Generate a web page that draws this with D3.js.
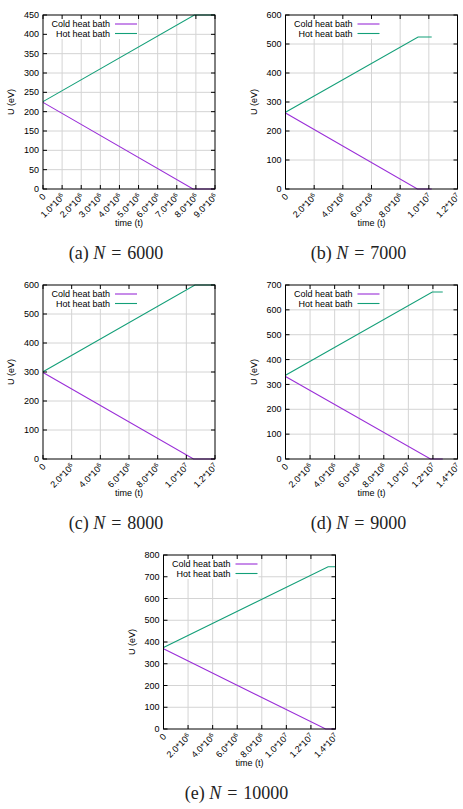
<!DOCTYPE html>
<html>
<head>
<meta charset="utf-8">
<script src="https://cdn.jsdelivr.net/npm/d3@7"></script>
<style>
  body { margin: 0; background: #fff; }
  svg { display: block; }
  .tick-label, .axis-title, .key-text { font-family: "Liberation Sans", Arial, sans-serif; font-size: 9px; fill: #000; }
  .caption { font-family: "Liberation Serif", "DejaVu Serif", serif; font-size: 18px; fill: #222; }
</style>
</head>
<body>
<svg id="chart" width="463" height="809"></svg>
<script>
// sub-figure captions
const captionLetters = ['a', 'b', 'c', 'd', 'e'];
const captionN = [6000, 7000, 8000, 9000, 10000];

// axis ranges
const xMax = [9e6, 1.2e7, 1.2e7, 1.4e7, 1.4e7];
const xStep = [1e6, 2e6, 2e6, 2e6, 2e6];
const yMax = [450, 600, 600, 700, 800];
const yStep = [50, 100, 100, 100, 100];

// series: [time, U]
const coldA = [[0, 224], [7.85e6, 0], [9e6, 0]];
const hotA = [[0, 226], [7.92e6, 450], [9e6, 450]];
const coldB = [[0, 262], [9.2e6, 0], [1.02e7, 0]];
const hotB = [[0, 265], [9.25e6, 524], [1.02e7, 524]];
const coldC = [[0, 298], [1.05e7, 0], [1.2e7, 0]];
const hotC = [[0, 301], [1.06e7, 600], [1.2e7, 600]];
const coldD = [[0, 332], [1.18e7, 0], [1.28e7, 0]];
const hotD = [[0, 337], [1.195e7, 672], [1.28e7, 672]];
const coldE = [[0, 369], [1.32e7, 0], [1.4e7, 0]];
const hotE = [[0, 375], [1.34e7, 746], [1.4e7, 746]];

const coldSeries = [coldA, coldB, coldC, coldD, coldE];
const hotSeries = [hotA, hotB, hotC, hotD, hotE];

const seriesNames = ['Cold heat bath', 'Hot heat bath'];
const seriesColors = ['#9a2ed8', '#139f78'];

// where each plot box sits on the page
const origins = [[43, 15], [285.5, 15], [43, 285], [285.5, 285], [163.5, 555]];
const plotW = 172, plotH = 174;

const svg = d3.select('#chart');

function tickText(v) {
  if (v === 0) return { base: '0', exp: null };
  const e = Math.floor(Math.log10(v));
  const m = v / Math.pow(10, e);
  return { base: m.toFixed(1) + '*10', exp: String(e) };
}

origins.forEach(([ox, oy], i) => {
  const g = svg.append('g').attr('transform', `translate(${ox},${oy})`);

  const x = d3.scaleLinear().domain([0, xMax[i]]).range([0, plotW]);
  const y = d3.scaleLinear().domain([0, yMax[i]]).range([plotH, 0]);

  const xTicks = d3.range(0, xMax[i] + 1, xStep[i]);
  const yTicks = d3.range(0, yMax[i] + 1, yStep[i]);

  // grid
  g.selectAll('.gx').data(xTicks.slice(1, -1)).join('line')
    .attr('x1', d => x(d)).attr('x2', d => x(d))
    .attr('y1', 0).attr('y2', plotH)
    .attr('stroke', '#d4d4d4').attr('stroke-width', 1);
  g.selectAll('.gy').data(yTicks.slice(1, -1)).join('line')
    .attr('x1', 0).attr('x2', plotW)
    .attr('y1', d => y(d)).attr('y2', d => y(d))
    .attr('stroke', '#d4d4d4').attr('stroke-width', 1);

  // opaque key background
  g.append('rect').attr('x', 1).attr('y', 1).attr('width', 94).attr('height', 23).attr('fill', '#fff');

  // series lines
  const line = d3.line().x(d => x(d[0])).y(d => y(d[1]));
  [coldSeries[i], hotSeries[i]].forEach((s, k) => {
    g.append('path').datum(s)
      .attr('d', line)
      .attr('fill', 'none')
      .attr('stroke', seriesColors[k])
      .attr('stroke-width', 1.1);
  });

  // key
  seriesNames.forEach((name, k) => {
    const ky = 9 + k * 9.5;
    g.append('text').attr('class', 'key-text')
      .attr('x', 67).attr('y', ky).attr('dy', '0.35em')
      .attr('text-anchor', 'end').text(name);
    g.append('line')
      .attr('x1', 72).attr('x2', 94).attr('y1', ky).attr('y2', ky)
      .attr('stroke', seriesColors[k]).attr('stroke-width', 1.1);
  });

  // ticks (inside, mirrored)
  yTicks.forEach(v => {
    g.append('line').attr('x1', 0).attr('x2', 4).attr('y1', y(v)).attr('y2', y(v)).attr('stroke', '#000');
    g.append('line').attr('x1', plotW - 4).attr('x2', plotW).attr('y1', y(v)).attr('y2', y(v)).attr('stroke', '#000');
  });
  xTicks.forEach(v => {
    g.append('line').attr('x1', x(v)).attr('x2', x(v)).attr('y1', plotH).attr('y2', plotH - 4).attr('stroke', '#000');
    g.append('line').attr('x1', x(v)).attr('x2', x(v)).attr('y1', 0).attr('y2', 4).attr('stroke', '#000');
  });

  // border
  g.append('rect').attr('width', plotW).attr('height', plotH)
    .attr('fill', 'none').attr('stroke', '#000').attr('stroke-width', 1);

  // y tick labels
  g.selectAll('.ylab').data(yTicks).join('text')
    .attr('class', 'tick-label')
    .attr('x', -4).attr('y', d => y(d)).attr('dy', '0.35em')
    .attr('text-anchor', 'end').text(d => d);

  // x tick labels, rotated 45
  xTicks.forEach(v => {
    const t = tickText(v);
    const lx = x(v) + 1, ly = plotH + 6;
    const txt = g.append('text').attr('class', 'tick-label')
      .attr('text-anchor', 'end')
      .attr('transform', `translate(${lx},${ly}) rotate(-45)`)
      .attr('dy', '0.35em');
    txt.append('tspan').text(t.base);
    if (t.exp) {
      txt.append('tspan').attr('dy', '-0.45em').attr('font-size', '6.5px').text(t.exp);
    }
  });

  // axis titles
  g.append('text').attr('class', 'axis-title')
    .attr('transform', `translate(-29,${plotH / 2}) rotate(-90)`)
    .attr('text-anchor', 'middle').text('U (eV)');
  g.append('text').attr('class', 'axis-title')
    .attr('x', plotW / 2).attr('y', plotH + 37)
    .attr('text-anchor', 'middle').text('time (t)');

  // caption
  const cap = g.append('text').attr('class', 'caption')
    .attr('x', plotW / 2 - 13).attr('y', plotH + 70)
    .attr('text-anchor', 'middle');
  cap.append('tspan').text(`(${captionLetters[i]}) `);
  cap.append('tspan').attr('font-style', 'italic').text('N');
  cap.append('tspan').text(`\u2004=\u2004${captionN[i]}`);
});
</script>
</body>
</html>
